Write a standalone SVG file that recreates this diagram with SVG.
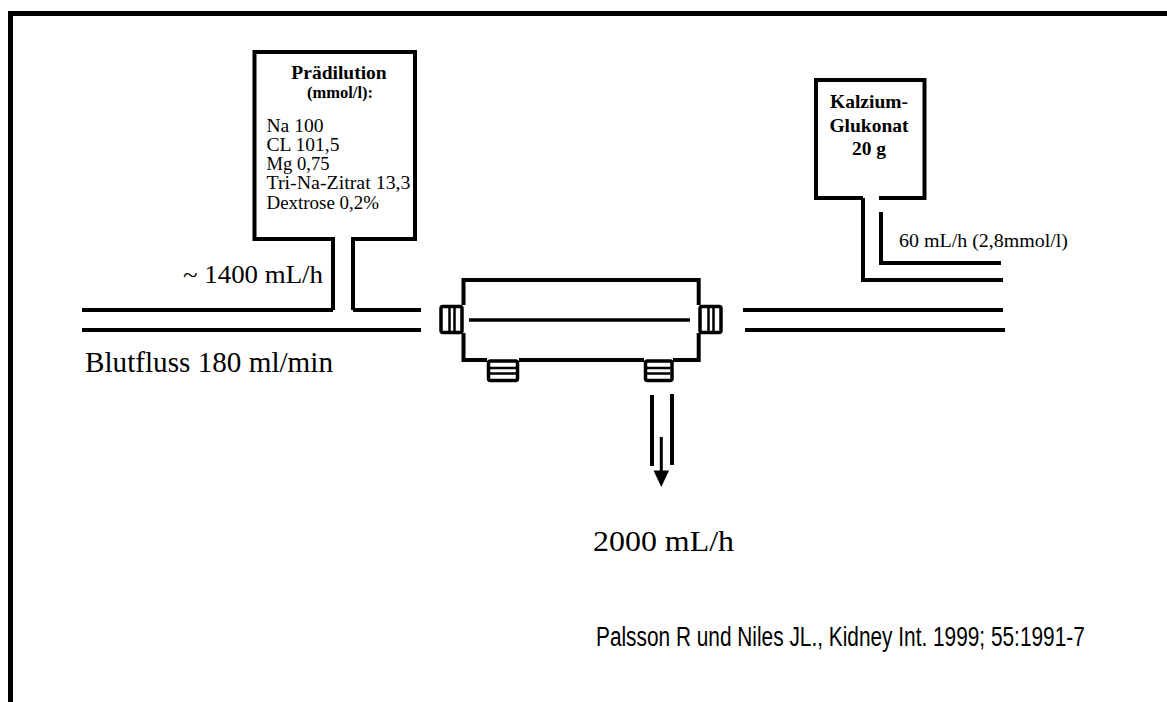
<svg xmlns="http://www.w3.org/2000/svg" width="1167" height="702" viewBox="0 0 1167 702">
<style>
.ln{fill:none;stroke:#000;stroke-width:4;stroke-linejoin:miter}
.fr{fill:none;stroke:#000;stroke-width:5}
.t{font-family:"Liberation Serif","Times New Roman",serif;fill:#000}
.b{font-weight:bold}
.a{font-family:"Liberation Sans",Arial,sans-serif;fill:#000}
.cn{fill:#fff;stroke:#000;stroke-width:3.5}
.st{stroke:#000;stroke-width:2.5}
.li{font-size:18.5px}
</style>
<rect width="1167" height="702" fill="#fff"/>
<g id="frame">
<path class="fr" d="M10.5,702 V13.5 H1167"/>
</g>
<g id="connectors">
<path class="ln" d="M82,310 H333"/>
<path class="ln" d="M82,330 H421"/>
<path class="ln" d="M353,310 H421"/>
<path class="ln" d="M743,310 H1003"/>
<path class="ln" d="M745,330 H1005"/>
<path class="ln" d="M1003,280 H863 V198"/>
<path class="ln" d="M881,212 V263 H1001"/>
<path class="ln" d="M652,395 V466"/>
<path class="ln" d="M672,394 V465"/>
<path stroke="#000" stroke-width="3" d="M661.3,437 V474"/>
<polygon points="653.5,470.5 669,470.5 661.3,487" fill="#000"/>
</g>
<g id="praedilution">
<path class="ln" d="M333,310 V239 H254.5 V52 H415 V239 H353 V310"/>
<text class="t b" x="339" y="79.3" font-size="19.5" text-anchor="middle">Prädilution</text>
<text class="t b" x="340" y="98.3" font-size="16.5" text-anchor="middle">(mmol/l):</text>
<text class="t li" x="266.5" y="131.7" textLength="57" lengthAdjust="spacingAndGlyphs">Na 100</text>
<text class="t li" x="266.5" y="150.9" textLength="73" lengthAdjust="spacingAndGlyphs">CL 101,5</text>
<text class="t li" x="266.5" y="170.1" textLength="63" lengthAdjust="spacingAndGlyphs">Mg 0,75</text>
<text class="t li" x="266.5" y="189.3" textLength="144" lengthAdjust="spacingAndGlyphs">Tri-Na-Zitrat 13,3</text>
<text class="t li" x="266.5" y="208.5" textLength="112.5" lengthAdjust="spacingAndGlyphs">Dextrose 0,2%</text>
</g>
<g id="kalzium">
<path class="ln" d="M863,198 H816 V80 H924.5 V198 H879"/>
<text class="t b" x="869" y="108.3" font-size="19.5" text-anchor="middle">Kalzium-</text>
<text class="t b" x="869" y="131.7" font-size="19.5" text-anchor="middle">Glukonat</text>
<text class="t b" x="869" y="154.5" font-size="19.5" text-anchor="middle">20 g</text>
</g>
<g id="filter">
<path class="ln" d="M463.5,305 V280 H698.7 V305 M698.7,333 V360 H673 M644,360 H519 M487,360 H463.5 V333"/>
<line x1="469" y1="320" x2="690" y2="320" stroke="#000" stroke-width="3.5"/>
<rect class="cn" x="441" y="306.5" width="21" height="26" rx="2"/>
<line class="st" x1="449.5" y1="308" x2="449.5" y2="331"/>
<line class="st" x1="454.5" y1="308" x2="454.5" y2="331"/>
<rect class="cn" x="700" y="306.5" width="21" height="26" rx="2"/>
<line class="st" x1="708.5" y1="308" x2="708.5" y2="331"/>
<line class="st" x1="713.5" y1="308" x2="713.5" y2="331"/>
<rect class="cn" x="488.5" y="361" width="29" height="19.5" rx="2"/>
<line class="st" x1="490" y1="368" x2="516" y2="368"/>
<line class="st" x1="490" y1="373.5" x2="516" y2="373.5"/>
<rect class="cn" x="645.5" y="361" width="26.5" height="19.5" rx="2"/>
<line class="st" x1="647" y1="368" x2="670.5" y2="368"/>
<line class="st" x1="647" y1="373.5" x2="670.5" y2="373.5"/>
</g>
<g id="labels">
<text class="t" x="183" y="283" font-size="26" textLength="140" lengthAdjust="spacingAndGlyphs">~ 1400 mL/h</text>
<text class="t" x="85" y="371.7" font-size="29" textLength="248" lengthAdjust="spacingAndGlyphs">Blutfluss 180 ml/min</text>
<text class="t" x="899" y="246.7" font-size="19.8" textLength="169" lengthAdjust="spacingAndGlyphs">60 mL/h (2,8mmol/l)</text>
<text class="t" x="593" y="551" font-size="29" textLength="141" lengthAdjust="spacingAndGlyphs">2000 mL/h</text>
<text class="a" font-size="27" transform="matrix(0.772 0 0 1 596 646)">Palsson R und Niles JL., Kidney Int. 1999; 55:1991-7</text>
</g>
</svg>
